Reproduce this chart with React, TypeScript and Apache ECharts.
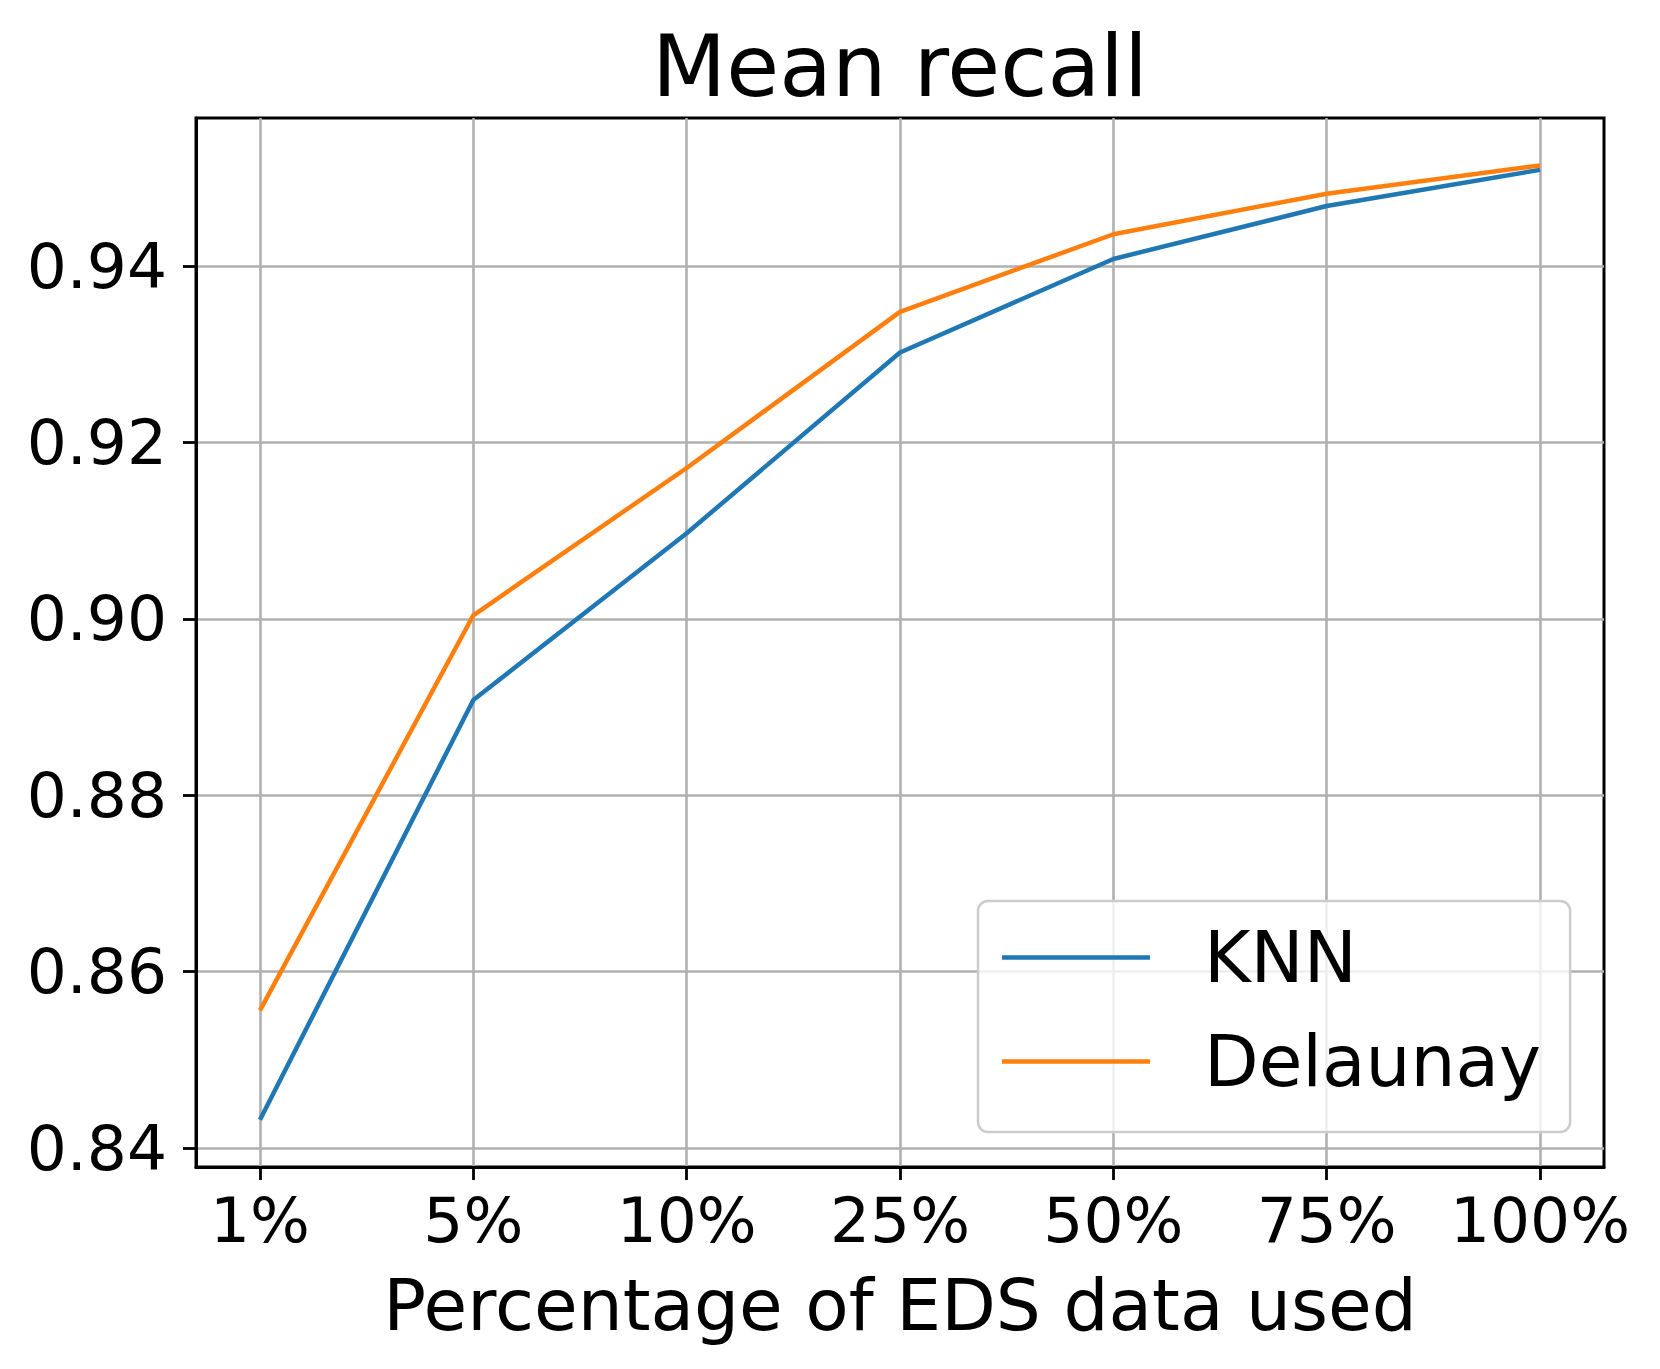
import React, { useEffect, useRef } from "react";
import * as echarts from "echarts";

const categories = ["1%", "5%", "10%", "25%", "50%", "75%", "100%"];
const knnValues = [0.8432, 0.8908, 0.9097, 0.9302, 0.9408, 0.9468, 0.9509];
const delaunayValues = [0.8556, 0.9004, 0.9171, 0.9348, 0.9436, 0.9482, 0.9514];
const yTicks = [0.84, 0.86, 0.88, 0.9, 0.92, 0.94];
const seriesNames = ["KNN", "Delaunay"];
const seriesColors = ["#1f77b4", "#ff7f0e"];

export default function App() {
  const ref = useRef<HTMLDivElement>(null);
  useEffect(() => {
    document.body.style.margin = "0";
    const chart = echarts.init(ref.current!, null, { renderer: "svg" });
    const font = "DejaVu Sans";
    const xIdx = categories.map((_, i) => i);
    const allValues = [knnValues, delaunayValues];
    chart.setOption({
      animation: false,
      backgroundColor: "#ffffff",
      title: {
        text: "Mean recall",
        left: 900,
        top: 23,
        textAlign: "center",
        padding: 0,
        textStyle: { fontSize: 86, lineHeight: 86, fontWeight: "normal", fontFamily: font, color: "#000" },
      },
      grid: {
        left: 196,
        top: 118,
        right: 56,
        bottom: 202,
        show: true,
        borderColor: "#000",
        borderWidth: 3,
        backgroundColor: "transparent",
        outerBoundsMode: "none",
      },
      xAxis: {
        type: "value",
        min: -0.3,
        max: 6.3,
        axisLine: { show: true, onZero: false, lineStyle: { color: "#000", width: 3 } },
        axisTick: { show: true, length: 13, lineStyle: { color: "#000", width: 2.8 }, customValues: xIdx },
        axisLabel: {
          customValues: xIdx,
          formatter: (v: number) => categories[Math.round(v)] ?? "",
          fontSize: 63,
          lineHeight: 63,
          fontFamily: font,
          color: "#000",
          margin: 22,
        },
        splitLine: { show: true, lineStyle: { color: "#b0b0b0", width: 2.6 } },
        name: "Percentage of EDS data used",
        nameLocation: "middle",
        nameGap: 103,
        nameMoveOverlap: false,
        nameTextStyle: { fontSize: 71, lineHeight: 71, fontFamily: font, color: "#000" },
      },
      yAxis: {
        type: "value",
        min: 0.83785,
        max: 0.95678,
        axisLine: { show: true, onZero: false, lineStyle: { color: "#000", width: 3 } },
        axisTick: { show: true, length: 13, lineStyle: { color: "#000", width: 2.8 }, customValues: yTicks },
        axisLabel: {
          customValues: yTicks,
          formatter: (v: number) => v.toFixed(2),
          fontSize: 63,
          lineHeight: 63,
          fontFamily: font,
          color: "#000",
          margin: 29,
        },
        splitLine: { show: true, lineStyle: { color: "#b0b0b0", width: 2.6 } },
      },
      legend: {
        orient: "vertical",
        left: 978,
        top: 901,
        padding: [21, 29, 35, 24],
        itemWidth: 148,
        itemHeight: 4.5,
        itemGap: 33,
        icon: "rect",
        backgroundColor: "rgba(255,255,255,0.8)",
        borderColor: "#cccccc",
        borderWidth: 2.5,
        borderRadius: 10,
        itemStyle: { borderWidth: 0 },
        textStyle: { fontSize: 71, lineHeight: 71, fontFamily: font, color: "#000", padding: [0, 0, 0, 49] },
        data: seriesNames,
      },
      series: seriesNames.map((name, s) => ({
        type: "line",
        name,
        data: allValues[s].map((v, i) => [i, v]),
        symbol: "none",
        color: seriesColors[s],
        lineStyle: { width: 4.5, color: seriesColors[s] },
        itemStyle: { color: seriesColors[s] },
        z: 3,
      })),
    });
    return () => chart.dispose();
  }, []);
  return <div ref={ref} style={{ width: 1660, height: 1369 }} />;
}
